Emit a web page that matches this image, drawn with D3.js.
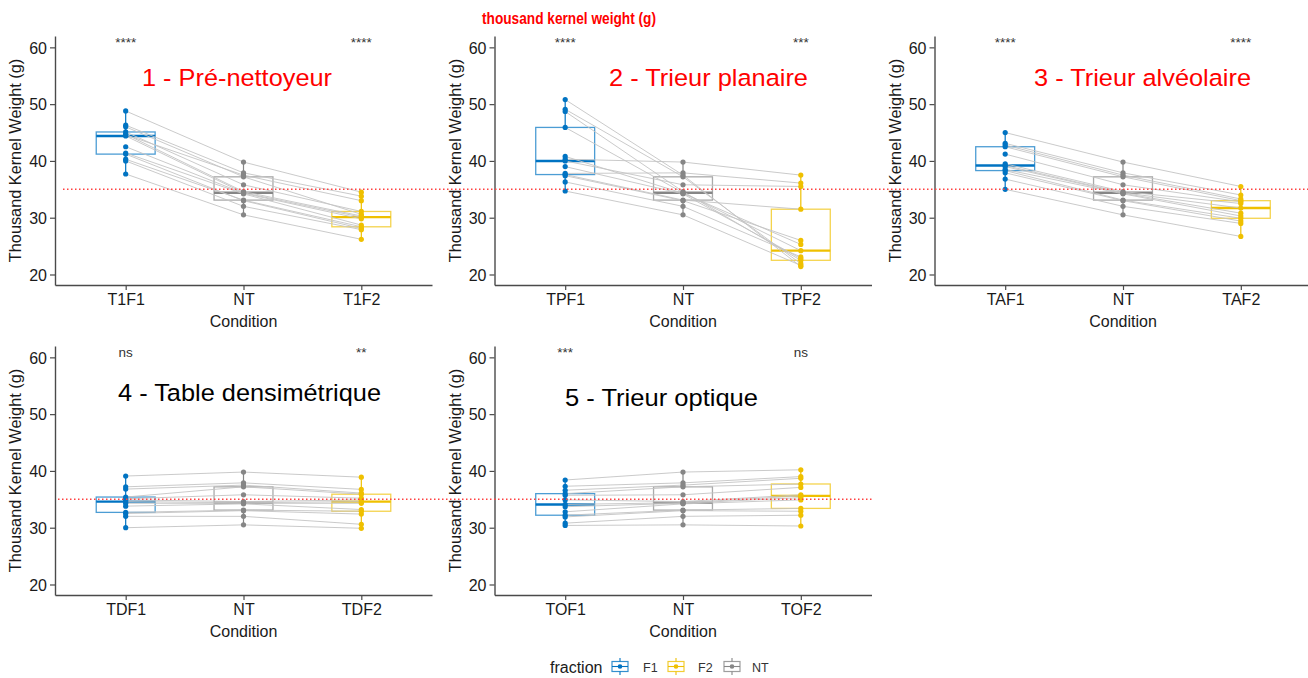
<!DOCTYPE html>
<html>
<head>
<meta charset="utf-8">
<script src="https://cdn.jsdelivr.net/npm/d3@7"></script>
<style>
  html, body { margin: 0; padding: 0; background: #fff; }
  svg { display: block; }
  text { font-family: "Liberation Sans", Arial, sans-serif; }
</style>
</head>
<body>
<svg id="chart" width="1308" height="678"></svg>
<script>
// ---------------- DATA ----------------
const fractions = ["F1", "F2", "NT"];
const fractionColors = ["#0073C2", "#EFC000", "#868686"];

const panelTitles = ["1 - Pré-nettoyeur", "2 - Trieur planaire", "3 - Trieur alvéolaire", "4 - Table densimétrique", "5 - Trieur optique"];
const panelTitleColors = ["#ff0000", "#ff0000", "#ff0000", "#000000", "#000000"];

const conditionLabels = [
  ["T1F1", "NT", "T1F2"],
  ["TPF1", "NT", "TPF2"],
  ["TAF1", "NT", "TAF2"],
  ["TDF1", "NT", "TDF2"],
  ["TOF1", "NT", "TOF2"]
];

const yTicks = [20, 30, 40, 50, 60];
const thresholdValue = 35;
const sigLabelY = 60;

// non-treated reference (same samples in every panel), one value per lot
const ntValues = [39.8, 37.9, 37.5, 37.2, 35.8, 34.6, 34.4, 34.3, 34.2, 33.1, 33.0, 32.0, 30.5];

// fraction 1 / fraction 2 per machine (same lot order as ntValues)
const t1f1 = [48.8, 46.3, 44.6, 46.0, 45.1, 44.7, 44.4, 42.5, 41.4, 40.3, 41.2, 40.0, 37.7];
const t1f2 = [34.5, 33.8, 33.0, 30.6, 31.1, 30.3, 30.1, 29.8, 28.7, 28.4, 28.1, 27.9, 26.2];

const tpf1 = [40.3, 37.8, 50.8, 49.1, 40.0, 48.7, 45.9, 40.8, 39.0, 37.6, 37.4, 36.3, 34.7];
const tpf2 = [37.5, 36.1, 21.4, 21.9, 35.5, 22.5, 24.2, 25.3, 22.8, 31.5, 26.0, 23.1, 21.6];

const taf1 = [45.0, 43.1, 42.8, 42.5, 41.2, 39.5, 39.2, 39.0, 38.5, 38.3, 37.9, 36.8, 35.0];
const taf2 = [35.5, 34.0, 33.3, 33.0, 32.8, 32.5, 31.7, 30.8, 30.3, 29.9, 29.4, 29.0, 26.7];

const tdf1 = [39.1, 37.2, 36.8, 35.4, 35.1, 34.9, 34.6, 34.3, 33.8, 32.7, 32.5, 32.0, 30.0];
const tdf2 = [38.9, 36.75, 36.1, 35.9, 35.2, 34.9, 34.6, 34.3, 33.2, 32.9, 32.4, 30.6, 29.9];

const tof1 = [38.4, 37.3, 36.6, 36.0, 35.7, 34.9, 34.1, 33.7, 32.8, 32.2, 31.9, 30.8, 30.4];
const tof2 = [40.2, 39.0, 38.7, 37.7, 37.1, 35.8, 35.6, 35.3, 34.9, 33.4, 32.9, 32.2, 30.3];

const f1Series = [t1f1, tpf1, taf1, tdf1, tof1];
const f2Series = [t1f2, tpf2, taf2, tdf2, tof2];

const sigF1 = ["****", "****", "****", "ns", "***"];
const sigF2 = ["****", "***", "****", "**", "ns"];

const headerTitle = "thousand kernel weight (g)";
const yAxisTitle = "Thousand Kernel Weight (g)";
const xAxisTitle = "Condition";
const legendTitle = "fraction";

// ---------------- LAYOUT ----------------
const frames = [
  { x0: 55,    x1: 432,    y0: 36,  y1: 285 },
  { x0: 494.5, x1: 871.5,  y0: 36,  y1: 285 },
  { x0: 934.5, x1: 1311.5, y0: 36,  y1: 285 },
  { x0: 55,    x1: 432,    y0: 346, y1: 595 },
  { x0: 494.5, x1: 871.5,  y0: 346, y1: 595 }
];
const titlePos = [
  { x: 142,  y: 86,  w: 190 },
  { x: 609,  y: 86,  w: 199 },
  { x: 1034, y: 86,  w: 217 },
  { x: 118,  y: 401, w: 263 },
  { x: 565,  y: 406, w: 193 }
];
const hlineRows = [
  { x0: 63, x1: 1308, panel: 0 },
  { x0: 58, x1: 872,  panel: 3 }
];
const yDomain = [18.15, 62];

const svg = d3.select("#chart");

function boxStats(values) {
  const s = values.slice().sort(d3.ascending);
  const q1 = d3.quantile(s, 0.25), med = d3.quantile(s, 0.5), q3 = d3.quantile(s, 0.75);
  const iqr = q3 - q1;
  const lo = d3.min(s.filter(v => v >= q1 - 1.5 * iqr));
  const hi = d3.max(s.filter(v => v <= q3 + 1.5 * iqr));
  return { q1, med, q3, lo, hi };
}

const yScales = frames.map(f => d3.scaleLinear().domain(yDomain).range([f.y1, f.y0]));
const xScales = frames.map((f, i) => d3.scalePoint().domain(conditionLabels[i]).range([f.x0, f.x1]).padding(0.6));

// header
svg.append("text")
  .attr("x", 569).attr("y", 24)
  .attr("text-anchor", "middle")
  .attr("font-size", 17).attr("font-weight", "bold")
  .attr("fill", "#ff0000")
  .attr("textLength", 174).attr("lengthAdjust", "spacingAndGlyphs")
  .text(headerTitle);

frames.forEach((f, p) => {
  const x = xScales[p], y = yScales[p];
  const g = svg.append("g");
  const step = x.step();
  const bw = step * 0.5;
  const labels = conditionLabels[p];
  const groups = [
    { label: labels[0], values: f1Series[p], color: fractionColors[0] },
    { label: labels[1], values: ntValues, color: fractionColors[2] },
    { label: labels[2], values: f2Series[p], color: fractionColors[1] }
  ];

  // boxes
  groups.forEach(gr => {
    const st = boxStats(gr.values);
    const cx = x(gr.label);
    g.append("line").attr("x1", cx).attr("x2", cx).attr("y1", y(st.q3)).attr("y2", y(st.hi))
      .attr("stroke", gr.color).attr("stroke-width", 1.2);
    g.append("line").attr("x1", cx).attr("x2", cx).attr("y1", y(st.q1)).attr("y2", y(st.lo))
      .attr("stroke", gr.color).attr("stroke-width", 1.2);
    g.append("rect")
      .attr("x", cx - bw / 2).attr("width", bw)
      .attr("y", y(st.q3)).attr("height", y(st.q1) - y(st.q3))
      .attr("fill", "none").attr("stroke", gr.color).attr("stroke-opacity", 0.7).attr("stroke-width", 1.3);
    g.append("line").attr("x1", cx - bw / 2).attr("x2", cx + bw / 2)
      .attr("y1", y(st.med)).attr("y2", y(st.med))
      .attr("stroke", gr.color).attr("stroke-width", 2.4);
  });

  // paired lines
  const lineGen = d3.line().x(d => d[0]).y(d => d[1]);
  ntValues.forEach((nt, i) => {
    const pts = [
      [x(labels[0]), y(f1Series[p][i])],
      [x(labels[1]), y(nt)],
      [x(labels[2]), y(f2Series[p][i])]
    ];
    g.append("path").attr("d", lineGen(pts))
      .attr("fill", "none").attr("stroke", "#c4c4c4").attr("stroke-opacity", 0.9).attr("stroke-width", 1);
  });

  // points
  groups.forEach(gr => {
    g.selectAll(null).data(gr.values).enter().append("circle")
      .attr("cx", x(gr.label)).attr("cy", d => y(d)).attr("r", 2.6)
      .attr("fill", gr.color);
  });

  // axes
  const ya = g.append("g").attr("transform", `translate(${f.x0},0)`)
    .call(d3.axisLeft(y).tickValues(yTicks).tickSize(5).tickSizeOuter(0).tickPadding(3));
  const xa = g.append("g").attr("transform", `translate(0,${f.y1})`)
    .call(d3.axisBottom(x).tickSize(5).tickSizeOuter(0).tickPadding(4));
  [ya, xa].forEach(a => {
    a.select(".domain").attr("stroke", "#4a4a4a").attr("stroke-width", 1.4);
    a.selectAll(".tick line").attr("stroke", "#4a4a4a").attr("stroke-width", 1.2);
    a.selectAll(".tick text").attr("font-size", 16).attr("fill", "#1a1a1a")
      .attr("font-family", "'Liberation Sans', Arial, sans-serif");
  });
  ya.selectAll(".tick text").attr("dy", "0.36em");

  // axis titles
  g.append("text")
    .attr("transform", `translate(${f.x0 - 34},${(f.y0 + f.y1) / 2}) rotate(-90)`)
    .attr("text-anchor", "middle").attr("font-size", 16.3).attr("fill", "#1a1a1a")
    .text(yAxisTitle);
  g.append("text")
    .attr("x", x(labels[1])).attr("y", f.y1 + 42)
    .attr("text-anchor", "middle").attr("font-size", 16).attr("fill", "#1a1a1a")
    .text(xAxisTitle);

  // significance labels
  [[labels[0], sigF1[p]], [labels[2], sigF2[p]]].forEach(([lab, txt]) => {
    g.append("text")
      .attr("x", x(lab)).attr("y", y(sigLabelY))
      .attr("text-anchor", "middle").attr("font-size", 13.5).attr("fill", "#333")
      .text(txt);
  });

  // panel title
  const tp = titlePos[p];
  g.append("text")
    .attr("x", tp.x).attr("y", tp.y)
    .attr("font-family", "'Open Sans', 'Noto Sans', sans-serif")
    .attr("font-size", 24.5).attr("fill", panelTitleColors[p])
    .attr("textLength", tp.w).attr("lengthAdjust", "spacingAndGlyphs")
    .text(panelTitles[p]);
});

// threshold lines (overlay on top of the panels)
hlineRows.forEach(r => {
  const y = yScales[r.panel](thresholdValue);
  svg.append("line")
    .attr("x1", r.x0).attr("x2", r.x1).attr("y1", y).attr("y2", y)
    .attr("stroke", "#ff4040").attr("stroke-width", 1.5)
    .attr("stroke-dasharray", "1.5,2.5");
});

// legend
const leg = svg.append("g");
leg.append("text").attr("x", 550).attr("y", 673).attr("font-size", 16).attr("fill", "#1a1a1a").text(legendTitle);
const legendOrder = [0, 1, 2];
const keyX = [612, 668, 724];
const labX = [643, 698, 752];
legendOrder.forEach((k, i) => {
  const c = fractionColors[k];
  const cx = keyX[i] + 8, cy = 666.5;
  leg.append("line").attr("x1", cx).attr("x2", cx).attr("y1", cy - 8.5).attr("y2", cy + 8.5)
    .attr("stroke", c).attr("stroke-width", 1.1);
  leg.append("rect").attr("x", keyX[i]).attr("y", cy - 5).attr("width", 16).attr("height", 10)
    .attr("fill", "#fff").attr("stroke", c).attr("stroke-opacity", 0.8).attr("stroke-width", 1.2);
  leg.append("line").attr("x1", keyX[i]).attr("x2", keyX[i] + 16).attr("y1", cy).attr("y2", cy)
    .attr("stroke", c).attr("stroke-width", 1.1);
  leg.append("circle").attr("cx", cx).attr("cy", cy).attr("r", 2.3).attr("fill", c);
  leg.append("text").attr("x", labX[i]).attr("y", 671.5).attr("font-size", 12.5).attr("fill", "#333")
    .text(fractions[k]);
});
</script>
</body>
</html>
